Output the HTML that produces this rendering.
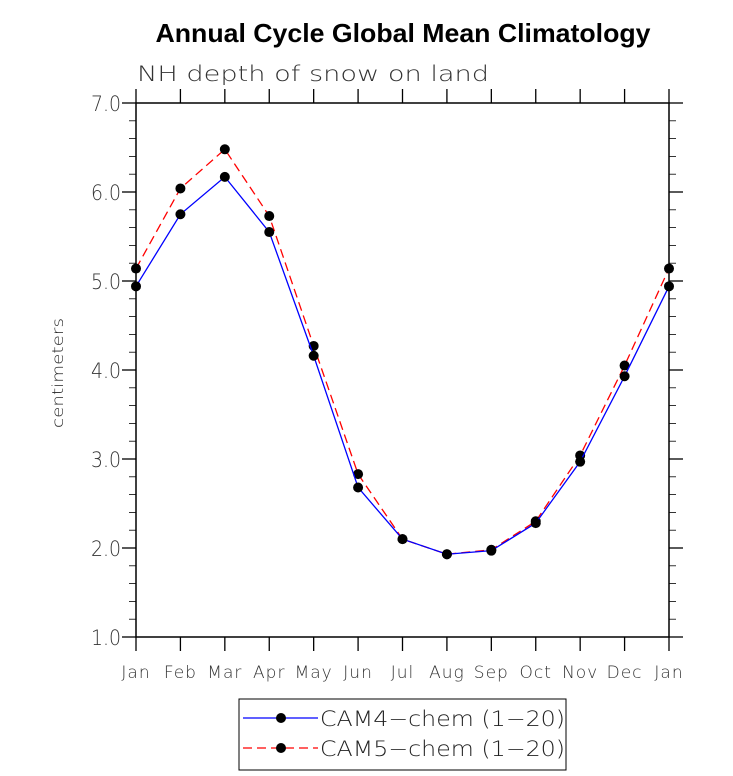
<!DOCTYPE html>
<html><head><meta charset="utf-8"><style>body{margin:0;background:#fff}svg{display:block}</style></head>
<body>
<svg id="c" width="733" height="776" xmlns="http://www.w3.org/2000/svg" font-family="'DejaVu Sans','Liberation Sans',sans-serif">
<text x="403" y="42" text-anchor="middle" font-family="'Liberation Sans',sans-serif" font-weight="bold" font-size="26" textLength="495" lengthAdjust="spacingAndGlyphs">Annual Cycle Global Mean Climatology</text>
<text x="137" y="81" font-size="21" font-weight="200" fill="#333" textLength="352" lengthAdjust="spacingAndGlyphs">NH depth of snow on land</text>
<text transform="translate(63,373) rotate(-90)" text-anchor="middle" font-size="15" font-weight="200" fill="#222" textLength="110" lengthAdjust="spacingAndGlyphs">centimeters</text>
<g id="axes"></g><g id="series"></g>
<rect x="239" y="699" width="327" height="71" fill="none" stroke="#000" stroke-width="1"/>
<g>
<line x1="243" y1="718" x2="318" y2="718" stroke="#0000ff" stroke-width="1.3"/><circle cx="281" cy="718" r="5" fill="#000"/>
<text x="320" y="726" font-size="21" font-weight="200" fill="#222" textLength="245" lengthAdjust="spacingAndGlyphs">CAM4−chem (1−20)</text></g>
<g>
<line x1="243" y1="748" x2="318" y2="748" stroke="#ff0000" stroke-width="1.3" stroke-dasharray="9,5"/><circle cx="281" cy="748" r="5" fill="#000"/>
<text x="320" y="756" font-size="21" font-weight="200" fill="#222" textLength="245" lengthAdjust="spacingAndGlyphs">CAM5−chem (1−20)</text></g>
</svg>
<script>
const months=["Jan","Feb","Mar","Apr","May","Jun","Jul","Aug","Sep","Oct","Nov","Dec","Jan"];
const cam4=[4.94,5.75,6.17,5.55,4.16,2.68,2.10,1.93,1.97,2.28,2.97,3.93,4.94];
const cam5=[5.14,6.04,6.48,5.73,4.27,2.83,2.10,1.93,1.98,2.30,3.04,4.05,5.14];
const yTicks=["1.0","2.0","3.0","4.0","5.0","6.0","7.0"];
const L=136,R=669,T=103,B=637,ymin=1,ymax=7;
const NS="http://www.w3.org/2000/svg";
const xs=i=>L+(R-L)*i/(months.length-1);
const ys=v=>B-(B-T)*(v-ymin)/(ymax-ymin);
function mk(t,a,p){const e=document.createElementNS(NS,t);for(const k in a)e.setAttribute(k,a[k]);p.appendChild(e);return e;}
const ax=document.getElementById('axes');
const fr=mk('rect',{x:L,y:T,width:R-L,height:B-T,fill:'none',stroke:'#000','stroke-width':1.5},ax);


months.forEach((m,i)=>{const x=xs(i);
 mk('line',{x1:x,y1:B,x2:x,y2:B+14,stroke:'#000','stroke-width':1.3},ax);
 mk('line',{x1:x,y1:T,x2:x,y2:T-14,stroke:'#000','stroke-width':1.3},ax);
 const t=mk('text',{x:x,y:B+41,'text-anchor':'middle','font-size':17,'font-weight':200,fill:'#333','letter-spacing':1},ax);t.textContent=m;
 
 
});
for(let v=ymin;v<=ymax+1e-9;v+=0.2){const y=ys(v);const major=Math.abs(v-Math.round(v))<1e-6;const len=major?14:7;
 mk('line',{x1:L-len,y1:y,x2:L,y2:y,stroke:'#000','stroke-width':major?1.3:0.8},ax);
 mk('line',{x1:R,y1:y,x2:R+len,y2:y,stroke:'#000','stroke-width':major?1.3:0.8},ax);}
yTicks.forEach(s=>{const y=ys(parseFloat(s));const t=mk('text',{x:L-45,y:y+8,'font-size':21,'font-weight':200,fill:'#333',textLength:30,lengthAdjust:'spacingAndGlyphs'},ax);t.textContent=s;
 
 });
const sg=document.getElementById('series');
function series(data,col,dash,name){
 const p=mk('polyline',{points:data.map((v,i)=>xs(i)+','+ys(v)).join(' '),fill:'none',stroke:col,'stroke-width':1.3,'stroke-dasharray':dash},sg);
 
 
 data.forEach((v,i)=>{const c=mk('circle',{cx:xs(i),cy:ys(v),r:5,fill:'#000'},sg);
  
  });
}
series(cam5,'#ff0000','9,5','cam5');
series(cam4,'#0000ff','none','cam4');
</script>
</body></html>
